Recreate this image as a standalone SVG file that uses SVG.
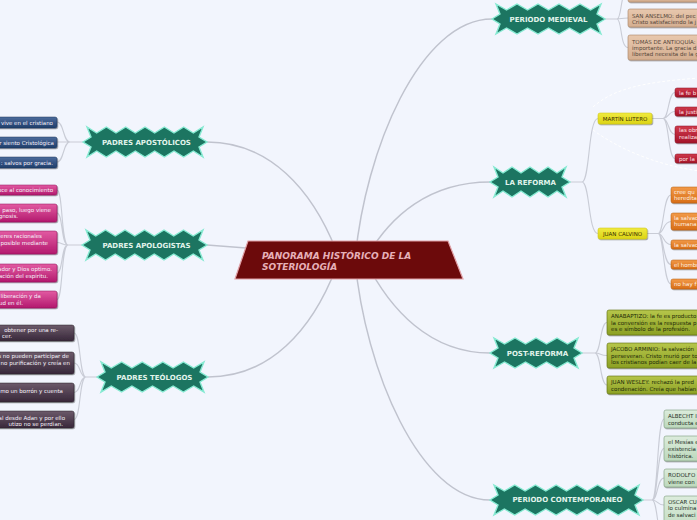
<svg xmlns="http://www.w3.org/2000/svg" width="697" height="520" viewBox="0 0 697 520">
<defs>
<linearGradient id="gBlue" x1="0" y1="0" x2="0" y2="1"><stop offset="0" stop-color="#4d6c9c"/><stop offset="1" stop-color="#1f3d6b"/></linearGradient>
<linearGradient id="gMag" x1="0" y1="0" x2="0" y2="1"><stop offset="0" stop-color="#e25aa2"/><stop offset="1" stop-color="#b31a6e"/></linearGradient>
<linearGradient id="gPur" x1="0" y1="0" x2="0" y2="1"><stop offset="0" stop-color="#6c5a6a"/><stop offset="1" stop-color="#38283a"/></linearGradient>
<linearGradient id="gTan" x1="0" y1="0" x2="0" y2="1"><stop offset="0" stop-color="#e8c8ae"/><stop offset="1" stop-color="#d4ae90"/></linearGradient>
<linearGradient id="gRed" x1="0" y1="0" x2="0" y2="1"><stop offset="0" stop-color="#d03a4c"/><stop offset="1" stop-color="#a4142a"/></linearGradient>
<linearGradient id="gOra" x1="0" y1="0" x2="0" y2="1"><stop offset="0" stop-color="#f29a48"/><stop offset="1" stop-color="#d86e16"/></linearGradient>
<linearGradient id="gOli" x1="0" y1="0" x2="0" y2="1"><stop offset="0" stop-color="#b6c64a"/><stop offset="1" stop-color="#8ca024"/></linearGradient>
<linearGradient id="gLgr" x1="0" y1="0" x2="0" y2="1"><stop offset="0" stop-color="#dcecdc"/><stop offset="1" stop-color="#bcd8bc"/></linearGradient>
<linearGradient id="gYel" x1="0" y1="0" x2="0" y2="1"><stop offset="0" stop-color="#f0ea40"/><stop offset="1" stop-color="#dcd414"/></linearGradient>
<filter id="sh" x="-10%" y="-30%" width="130%" height="170%"><feDropShadow dx="0.8" dy="1" stdDeviation="0.5" flood-color="#000" flood-opacity="0.4"/></filter>
</defs>
<style>
.main{fill:#1c7561;stroke:#86ead2;stroke-width:1.4;stroke-linejoin:miter}
.mt{font-family:"DejaVu Sans",Verdana,sans-serif;font-weight:bold;font-size:7px;fill:#e2f4ec;text-anchor:middle}
.lt{font-family:"DejaVu Sans",Verdana,sans-serif;font-size:5.5px}
.w{fill:#f6f2fa}
.e{text-anchor:end}
.conn path{fill:none;stroke:#c9ccd6;stroke-width:1.1}
.conn .mc{stroke:#c0c3ce;stroke-width:1.5}
.box{filter:url(#sh)}
.blue{fill:url(#gBlue);stroke:#1a3458;stroke-width:0.5}
.mag{fill:url(#gMag);stroke:#8c1254;stroke-width:0.5}
.pur{fill:url(#gPur);stroke:#2a1e2a;stroke-width:0.5}
.tan{fill:url(#gTan);stroke:#a88464;stroke-width:0.6}
.red{fill:url(#gRed);stroke:#80101e;stroke-width:0.5}
.ora{fill:url(#gOra);stroke:#b05a10;stroke-width:0.5}
.oli{fill:url(#gOli);stroke:#5c6c10;stroke-width:0.6}
.lgr{fill:url(#gLgr);stroke:#7c9c7c;stroke-width:0.6}
.yel{fill:url(#gYel);stroke:#c8c010;stroke-width:0.5}
</style>
<rect x="0" y="0" width="697" height="520" fill="#f2f5fd"/>

<g id="boundary" fill="none" stroke="#ffffff" stroke-width="1" stroke-dasharray="3,2">
<path d="M593,107 C612,90 640,82 700,78"/>
<path d="M593,130 C620,150 660,166 700,171"/>
</g>

<g class="conn" id="connectors">
<path class="mc" d="M207,142 C270,142 312,190 336,250"/>
<path class="mc" d="M207,245 L300,252"/>
<path class="mc" d="M208,377 C270,377 312,330 336,268"/>
<path class="mc" d="M355,260 C365,150 420,19 492,19"/>
<path class="mc" d="M365,260 C390,215 430,182 490,182"/>
<path class="mc" d="M365,260 C390,310 430,353 490,353"/>
<path class="mc" d="M355,260 C365,370 420,500 490,500"/>

<path d="M83,142 H70 M70,142 C63,142 64,122 57,122 M70,142 H57 M70,142 C63,142 64,162 57,162"/>
<path d="M82,245 H68 M68,245 C61,245 63,190 57,190 M68,245 C61,245 63,213 57,213 M68,245 C62,245 62,242.5 57,242.5 M68,245 C61,245 63,273 57,273 M68,245 C61,245 63,299.5 57,299.5"/>
<path d="M97,377 H86 M86,377 C79,377 81,333 74,333 M86,377 C79,377 81,363 74,363 M86,377 C79,377 81,392.5 74,392.5 M86,377 C79,377 81,419.5 74,419.5"/>
<path d="M605,19 H617 M617,19 C622,19 620,-9 628,-9 M617,19 C622,19 621,18 628,18 M617,19 C622,19 620,47.5 628,47.5"/>
<path d="M570,182 H582 M582,182 C590,182 588,118.5 598,118.5 M582,182 C590,182 588,233.5 598,233.5"/>
<path d="M652,118.5 H663 M663,118.5 C669,118.5 668,92.5 675,92.5 M663,118.5 C669,118.5 668,111.5 675,111.5 M663,118.5 C669,118.5 668,134.5 675,134.5 M663,118.5 C669,118.5 668,158.5 675,158.5"/>
<path d="M647,233.5 H658 M658,233.5 C664,233.5 663,195 671,195 M658,233.5 C664,233.5 663,221.5 671,221.5 M658,233.5 C664,233.5 663,244.5 671,244.5 M658,233.5 C664,233.5 663,264.5 671,264.5 M658,233.5 C664,233.5 663,284 671,284"/>
<path d="M582,353 H595 M595,353 C601,353 600,322.5 607,322.5 M595,353 C601,353 600,355.5 607,355.5 M595,353 C601,353 600,385 607,385"/>
<path d="M643,500 H652 M652,500 C658,500 657,419 664,419 M652,500 C658,500 657,448.5 664,448.5 M652,500 C658,500 657,478 664,478 M652,500 C658,500 657,505 664,505 M652,500 C658,500 657,540 664,540"/>
</g>

<g id="central">
<polygon points="248,241 448,241 463,279 235,279" fill="#6c0a0b" stroke="#e0a0a6" stroke-width="1.2"/>
<text font-family="'DejaVu Sans',Verdana,sans-serif" font-weight="bold" font-style="italic" font-size="9" fill="#e6b0b8"><tspan x="262" y="258.5">PANORAMA HISTÓRICO DE LA</tspan><tspan x="262" y="269.5">SOTERIOLOGÍA</tspan></text>
</g>

<g id="padres-apostolicos">
<path class="main" d="M83,142 l8,-5 l-4,-10 l9.667,6 l9.667,-6 l9.667,6 l9.667,-6 l9.667,6 l9.667,-6 l9.667,6 l9.667,-6 l9.667,6 l9.667,-6 l9.667,6 l9.667,-6 l-4,10 l8,5 l-8,5 l4,10 l-9.667,-6 l-9.667,6 l-9.667,-6 l-9.667,6 l-9.667,-6 l-9.667,6 l-9.667,-6 l-9.667,6 l-9.667,-6 l-9.667,6 l-9.667,-6 l-9.667,6 l4,-10 z"/>
<text class="mt" x="146.5" y="144.5">PADRES APOSTÓLICOS</text>
</g>
<g id="apostolicos-leaves">
<rect class="box blue" x="-60" y="117" width="117" height="11" rx="2"/>
<rect class="box blue" x="-60" y="137" width="117" height="11" rx="2"/>
<rect class="box blue" x="-60" y="157" width="117" height="11" rx="2"/>
<text class="lt w e" x="53" y="124.5">vive en el cristiano</text>
<text class="lt w e" x="54" y="144.5">r siento Cristológica</text>
<text class="lt w e" x="53" y="164.5">: salvos por gracia.</text>
</g>

<g id="padres-apologistas">
<path class="main" d="M82,245 l8,-5 l-4,-10 l9.75,6 l9.75,-6 l9.75,6 l9.75,-6 l9.75,6 l9.75,-6 l9.75,6 l9.75,-6 l9.75,6 l9.75,-6 l9.75,6 l9.75,-6 l-4,10 l8,5 l-8,5 l4,10 l-9.75,-6 l-9.75,6 l-9.75,-6 l-9.75,6 l-9.75,-6 l-9.75,6 l-9.75,-6 l-9.75,6 l-9.75,-6 l-9.75,6 l-9.75,-6 l-9.75,6 l4,-10 z"/>
<text class="mt" x="146.5" y="248">PADRES APOLOGISTAS</text>
</g>
<g id="apologistas-leaves">
<rect class="box mag" x="-60" y="185" width="117" height="10" rx="2"/>
<rect class="box mag" x="-60" y="204" width="117" height="18" rx="2"/>
<rect class="box mag" x="-60" y="231" width="117" height="23" rx="2"/>
<rect class="box mag" x="-60" y="264" width="117" height="18" rx="2"/>
<rect class="box mag" x="-60" y="291" width="117" height="17" rx="2"/>
<text class="lt w e" x="53" y="192">uce al conocimiento</text>
<text class="lt w e" x="51" y="211.5">paso, luego viene</text>
<text class="lt w e" x="18" y="218">gnosis.</text>
<text class="lt w e" x="42" y="238">eres racionales</text>
<text class="lt w e" x="48" y="244.5">posible mediante</text>
<text class="lt w e" x="52" y="271">ador y Dios optimo.</text>
<text class="lt w e" x="48" y="277.5">ación del espiritu.</text>
<text class="lt w e" x="41" y="298">liberación y da</text>
<text class="lt w e" x="23" y="304.5">ud en él.</text>
</g>

<g id="padres-teologos">
<path class="main" d="M97,377 l8,-5 l-4,-10 l10.3,6 l10.3,-6 l10.3,6 l10.3,-6 l10.3,6 l10.3,-6 l10.3,6 l10.3,-6 l10.3,6 l10.3,-6 l-4,10 l8,5 l-8,5 l4,10 l-10.3,-6 l-10.3,6 l-10.3,-6 l-10.3,6 l-10.3,-6 l-10.3,6 l-10.3,-6 l-10.3,6 l-10.3,-6 l-10.3,6 l4,-10 z"/>
<text class="mt" x="154.5" y="379.5">PADRES TEÓLOGOS</text>
</g>
<g id="teologos-leaves">
<rect class="box pur" x="-60" y="325" width="134" height="16" rx="2"/>
<rect class="box pur" x="-60" y="352" width="134" height="22" rx="2"/>
<rect class="box pur" x="-60" y="383" width="134" height="19" rx="2"/>
<rect class="box pur" x="-60" y="411" width="134" height="17" rx="2"/>
<text class="lt w e" x="58" y="331.5">obtener por una re-</text>
<text class="lt w e" x="12" y="337.5">cer.</text>
<text class="lt w e" x="69" y="358">s no pueden participar de</text>
<text class="lt w e" x="70" y="364.5">no purificación y creía en</text>
<text class="lt w e" x="63" y="393">mo un borrón y cuenta</text>
<text class="lt w e" x="65" y="419.5">al desde Adan y por ello</text>
<text class="lt w e" x="63" y="426">utizo no se perdian.</text>
</g>

<g id="periodo-medieval">
<path class="main" d="M492,19 l8,-5 l-4,-10 l10.5,6 l10.5,-6 l10.5,6 l10.5,-6 l10.5,6 l10.5,-6 l10.5,6 l10.5,-6 l10.5,6 l10.5,-6 l-4,10 l8,5 l-8,5 l4,10 l-10.5,-6 l-10.5,6 l-10.5,-6 l-10.5,6 l-10.5,-6 l-10.5,6 l-10.5,-6 l-10.5,6 l-10.5,-6 l-10.5,6 l4,-10 z"/>
<text class="mt" x="548.5" y="21.8">PERIODO MEDIEVAL</text>
</g>
<g id="medieval-leaves" fill="#55463a">
<rect class="box tan" x="628" y="-20" width="120" height="22" rx="2"/>
<rect class="box tan" x="628" y="9" width="120" height="18" rx="2"/>
<rect class="box tan" x="628" y="35" width="120" height="25" rx="2"/>
<text class="lt" x="632" y="17.6">SAN ANSELMO: del pec</text>
<text class="lt" x="632" y="24.2">Cristo satisfaciendo la j</text>
<text class="lt" x="632" y="44.2">TOMÁS DE ANTIOQUÍA:</text>
<text class="lt" x="632" y="50">importante. La gracia d</text>
<text class="lt" x="632" y="55.7">libertad necesita de la g</text>
</g>

<g id="la-reforma">
<path class="main" d="M490,182 l8,-5 l-4,-10 l9,6 l9,-6 l9,6 l9,-6 l9,6 l9,-6 l9,6 l9,-6 l-4,10 l8,5 l-8,5 l4,10 l-9,-6 l-9,6 l-9,-6 l-9,6 l-9,-6 l-9,6 l-9,-6 l-9,6 l4,-10 z"/>
<text class="mt" x="530.5" y="185">LA REFORMA</text>
</g>

<g id="martin-lutero">
<rect class="box yel" x="598" y="113" width="54" height="11" rx="2"/>
<text class="lt" x="625" y="120.5" text-anchor="middle" fill="#3a3000">MARTÍN LUTERO</text>
</g>
<g id="lutero-leaves" fill="#ffe4e6">
<rect class="box red" x="675" y="88" width="60" height="9" rx="2"/>
<rect class="box red" x="675" y="107" width="60" height="9" rx="2"/>
<rect class="box red" x="675" y="126" width="60" height="17" rx="2"/>
<rect class="box red" x="675" y="154" width="60" height="9" rx="2"/>
<text class="lt" x="679" y="94.5">la fe b</text>
<text class="lt" x="679" y="113.5">la justi</text>
<text class="lt" x="679" y="132.2">las obr</text>
<text class="lt" x="679" y="139">realiza</text>
<text class="lt" x="679" y="160.5">por la</text>
</g>

<g id="juan-calvino">
<rect class="box yel" x="598" y="228" width="49" height="11" rx="2"/>
<text class="lt" x="622.5" y="235.5" text-anchor="middle" fill="#3a3000">JUAN CALVINO</text>
</g>
<g id="calvino-leaves" fill="#fff2e4">
<rect class="box ora" x="671" y="187" width="60" height="16" rx="2"/>
<rect class="box ora" x="671" y="213" width="60" height="17" rx="2"/>
<rect class="box ora" x="671" y="240" width="60" height="9" rx="2"/>
<rect class="box ora" x="671" y="260" width="60" height="9" rx="2"/>
<rect class="box ora" x="671" y="279" width="60" height="10" rx="2"/>
<text class="lt" x="674" y="194">cree qu</text>
<text class="lt" x="674" y="200.3">heredita</text>
<text class="lt" x="674" y="219.5">la salvac</text>
<text class="lt" x="674" y="226">humana</text>
<text class="lt" x="674" y="246.5">la salvac</text>
<text class="lt" x="674" y="266.5">el hombr</text>
<text class="lt" x="674" y="286">no hay f</text>
</g>

<g id="post-reforma">
<path class="main" d="M490,353 l8,-5 l-4,-10 l10.5,6 l10.5,-6 l10.5,6 l10.5,-6 l10.5,6 l10.5,-6 l10.5,6 l10.5,-6 l-4,10 l8,5 l-8,5 l4,10 l-10.5,-6 l-10.5,6 l-10.5,-6 l-10.5,6 l-10.5,-6 l-10.5,6 l-10.5,-6 l-10.5,6 l4,-10 z"/>
<text class="mt" x="537.5" y="356">POST-REFORMA</text>
</g>
<g id="post-reforma-leaves" fill="#222a08">
<rect class="box oli" x="607" y="310" width="120" height="25" rx="2"/>
<rect class="box oli" x="607" y="343" width="120" height="25" rx="2"/>
<rect class="box oli" x="607" y="376" width="120" height="18" rx="2"/>
<text class="lt" x="611" y="318">ANABAPTIZO: la fe es producto</text>
<text class="lt" x="611" y="324.6">la conversión es la respuesta p</text>
<text class="lt" x="611" y="331">es e símbolo de la profesión.</text>
<text class="lt" x="611" y="351">JACOBO ARMINIO: la salvación</text>
<text class="lt" x="611" y="357.8">perseveran. Cristo murió por to</text>
<text class="lt" x="611" y="364.3">los cristianos podían caer de la</text>
<text class="lt" x="611" y="383.7">JUAN WESLEY: rechazó la pred</text>
<text class="lt" x="611" y="391">condenación. Creía que habían</text>
</g>

<g id="periodo-contemporaneo">
<path class="main" d="M490,500 l8,-5 l-4,-10 l10.357,6 l10.357,-6 l10.357,6 l10.357,-6 l10.357,6 l10.357,-6 l10.357,6 l10.357,-6 l10.357,6 l10.357,-6 l10.357,6 l10.357,-6 l10.357,6 l10.357,-6 l-4,10 l8,5 l-8,5 l4,10 l-10.357,-6 l-10.357,6 l-10.357,-6 l-10.357,6 l-10.357,-6 l-10.357,6 l-10.357,-6 l-10.357,6 l-10.357,-6 l-10.357,6 l-10.357,-6 l-10.357,6 l-10.357,-6 l-10.357,6 l4,-10 z"/>
<text class="mt" x="567.5" y="502">PERIODO CONTEMPORANEO</text>
</g>
<g id="contemporaneo-leaves" fill="#1e2e1e">
<rect class="box lgr" x="664" y="410" width="60" height="18" rx="2"/>
<rect class="box lgr" x="664" y="436" width="60" height="25" rx="2"/>
<rect class="box lgr" x="664" y="469" width="60" height="18" rx="2"/>
<rect class="box lgr" x="664" y="496" width="60" height="40" rx="2"/>
<text class="lt" x="668" y="417.7">ALBECHT I</text>
<text class="lt" x="668" y="425.3">conducta e</text>
<text class="lt" x="668" y="444.3">el Mesías e</text>
<text class="lt" x="668" y="451">existencia</text>
<text class="lt" x="668" y="458">histórica.</text>
<text class="lt" x="668" y="477.3">RODOLFO</text>
<text class="lt" x="668" y="484">viene con</text>
<text class="lt" x="668" y="504">OSCAR CU</text>
<text class="lt" x="668" y="510.3">lo culmina</text>
<text class="lt" x="668" y="517">de salvaci</text>
</g>
</svg>
